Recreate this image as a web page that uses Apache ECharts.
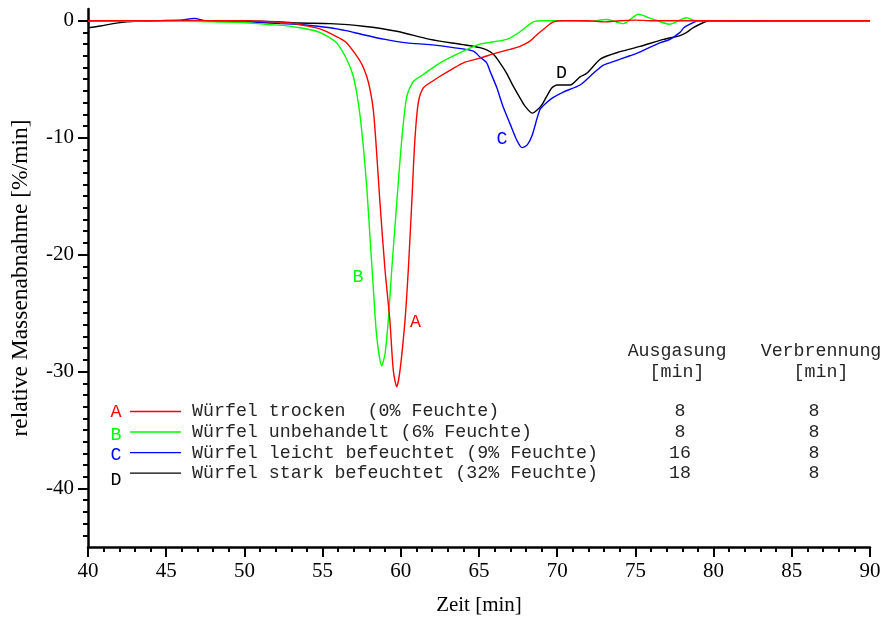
<!DOCTYPE html>
<html>
<head>
<meta charset="utf-8">
<script src="https://cdn.jsdelivr.net/npm/echarts@6/dist/echarts.min.js"></script>
<style>
  html, body { margin: 0; padding: 0; background: #ffffff; }
  #chart { width: 886px; height: 623px; }
</style>
</head>
<body>
<div id="chart"></div>
<script>
// Mass loss rate [%/min] over time [min] for four cube samples
const timeA = [40, 42, 44, 46, 48, 50, 51, 52, 53, 53.55, 54.2, 54.83, 55.3, 55.66, 56.1, 56.54, 57.18, 57.5, 57.82, 58.05, 58.24, 58.4, 58.67, 58.99, 59.3, 59.52, 59.74, 59.95, 60.27, 60.48, 60.7, 60.9, 61.12, 61.44, 62.0, 62.51, 63.2, 64.0, 65.06, 66.13, 67.0, 67.62, 68.26, 68.7, 69.11, 69.75, 70.5, 72, 73, 74, 75, 76, 78, 80, 85, 90];
const rateA = [0, 0, 0, 0.05, 0, 0, -0.05, -0.1, -0.2, -0.33, -0.5, -0.7, -0.95, -1.2, -1.5, -1.9, -3.0, -3.7, -4.75, -6.0, -7.6, -10.2, -15.6, -21.3, -25.6, -29.9, -31.3, -29.9, -25.6, -21.3, -15.6, -10.2, -7.0, -5.75, -5.2, -4.75, -4.2, -3.6, -3.2, -2.75, -2.45, -2.2, -1.75, -1.2, -0.75, -0.1, 0, 0, -0.1, 0, 0.05, 0, 0, 0, 0, 0];

const timeB = [40, 42, 44, 46, 48, 50, 51.43, 52.5, 53.55, 54.62, 55.26, 55.9, 56.54, 56.96, 57.28, 57.54, 57.82, 58.03, 58.24, 58.46, 58.78, 58.99, 59.2, 59.42, 59.74, 60.06, 60.38, 60.8, 61.44, 62.51, 64.0, 65.06, 66.77, 67.62, 68.47, 69.11, 71, 72, 73.16, 74.23, 75.19, 75.93, 77.21, 78.28, 78.81, 80, 85, 90];
const rateB = [0, -0.05, 0, -0.05, -0.1, -0.15, -0.33, -0.4, -0.6, -0.9, -1.3, -1.9, -3.3, -4.75, -7.0, -9.9, -14.2, -18.5, -22.8, -27.0, -29.5, -28.5, -25.6, -21.3, -15.6, -10.2, -6.5, -5.2, -4.6, -3.6, -2.6, -2.0, -1.6, -0.95, -0.1, 0, 0, -0.05, 0.1, -0.25, 0.55, 0.22, -0.3, 0.25, 0, 0, 0, 0];

const timeC = [40, 42, 44, 46, 46.8, 47.5, 49, 50, 51, 52.28, 53.55, 55.47, 56.5, 57.6, 59, 60.38, 61.87, 63.36, 64.64, 65.06, 65.49, 65.7, 66.13, 66.5, 66.98, 67.41, 67.75, 68.1, 68.4, 68.9, 69.33, 69.7, 70.39, 71.46, 72.31, 72.95, 73.59, 74.65, 75.08, 76.57, 77.21, 77.85, 78.1, 78.49, 79.0, 80, 82, 84, 86, 88, 90];
const rateC = [0, -0.05, 0, 0.05, 0.2, 0, -0.05, -0.1, -0.15, -0.25, -0.33, -0.6, -0.85, -1.2, -1.6, -1.9, -2.05, -2.3, -2.6, -3.1, -3.6, -4.3, -5.7, -7.2, -8.8, -10.2, -10.85, -10.6, -9.8, -7.6, -7.0, -6.6, -6.1, -5.5, -4.5, -3.8, -3.5, -3.0, -2.8, -1.9, -1.6, -1.0, -0.6, -0.3, 0, 0, -0.05, 0, 0, 0, 0];

const timeD = [40, 40.8, 41.6, 42.47, 43.5, 45, 47, 49, 51, 52.28, 53.55, 55.47, 57.6, 59.74, 61.87, 64.0, 65.06, 65.49, 65.91, 66.34, 66.77, 67.19, 67.62, 67.94, 68.4, 68.9, 69.11, 69.65, 70.0, 70.82, 71.46, 71.89, 72.8, 74.02, 75.3, 76.79, 77.85, 78.28, 78.7, 79.56, 80, 85, 90];
const rateD = [-0.6, -0.45, -0.25, -0.1, 0, 0, 0, 0, -0.05, -0.1, -0.2, -0.25, -0.47, -0.9, -1.6, -2.05, -2.3, -2.5, -2.85, -3.6, -4.5, -5.6, -6.6, -7.3, -7.9, -7.4, -7.0, -5.75, -5.5, -5.5, -4.8, -4.5, -3.25, -2.65, -2.2, -1.6, -1.27, -1.0, -0.6, -0.05, 0, 0, 0];

const curveLetters = ['A', 'B', 'C', 'D'];
const curveColors = ['#ff0000', '#00ff00', '#0000ff', '#000000'];
const sampleNames = [
  'Würfel trocken  (0% Feuchte)',
  'Würfel unbehandelt (6% Feuchte)',
  'Würfel leicht befeuchtet (9% Feuchte)',
  'Würfel stark befeuchtet (32% Feuchte)'
];
const degassingTimes = ['8', '8', '16', '18'];
const combustionTimes = ['8', '8', '8', '8'];
const columnHeads = ['Ausgasung', 'Verbrennung'];
const columnUnit = '[min]';

const yMajorTicks = [0, -10, -20, -30, -40];
const yMinorTicks = [];
for (let v = -44; v <= 0; v++) yMinorTicks.push(v);

const pair = (xs, ys) => xs.map((x, i) => [x, ys[i]]);
const curves = [pair(timeA, rateA), pair(timeB, rateB), pair(timeC, rateC), pair(timeD, rateD)];

const serif = 'Liberation Serif';
const monoFont = '18.3px "Liberation Mono"';
const textInk = '#262626';

const chart = echarts.init(document.getElementById('chart'));

// legend block: letter, line key, description, then the two time columns
const legendRowsY = [411.5, 432, 452.7, 473.2];
const letterRowsY = [411.7, 435.5, 455, 480];
const graphics = [];
legendRowsY.forEach((y, i) => {
  graphics.push({
    type: 'text', x: 116, y: letterRowsY[i],
    style: { text: curveLetters[i], fill: curveColors[i], font: monoFont, align: 'center', verticalAlign: 'middle' }
  });
  graphics.push({
    type: 'line', shape: { x1: 130, y1: y, x2: 181, y2: y },
    style: { stroke: curveColors[i], lineWidth: 1.3 }
  });
  graphics.push({
    type: 'text', x: 192, y: y,
    style: { text: sampleNames[i], fill: textInk, font: monoFont, verticalAlign: 'middle' }
  });
  graphics.push({
    type: 'text', x: 680, y: y,
    style: { text: degassingTimes[i], fill: textInk, font: monoFont, align: 'center', verticalAlign: 'middle' }
  });
  graphics.push({
    type: 'text', x: 814, y: y,
    style: { text: combustionTimes[i], fill: textInk, font: monoFont, align: 'center', verticalAlign: 'middle' }
  });
});
[[677, columnHeads[0]], [821, columnHeads[1]]].forEach(([cx, head]) => {
  graphics.push({
    type: 'text', x: cx, y: 351,
    style: { text: head, fill: textInk, font: monoFont, align: 'center', verticalAlign: 'middle' }
  });
  graphics.push({
    type: 'text', x: cx, y: 372,
    style: { text: columnUnit, fill: textInk, font: monoFont, align: 'center', verticalAlign: 'middle' }
  });
});
// curve letters beside the peaks
const peakLetterPos = [[415.5, 322], [358, 277], [502, 139.5], [561.5, 73]];
peakLetterPos.forEach(([px, py], i) => {
  graphics.push({
    type: 'text', x: px, y: py,
    style: { text: curveLetters[i], fill: curveColors[i], font: monoFont, align: 'center', verticalAlign: 'middle' }
  });
});

const axisLineStyle = { color: '#000', width: 2.5 };

const option = {
  animation: false,
  backgroundColor: '#ffffff',
  grid: { left: 88, right: 16, top: 9, bottom: 76, containLabel: false },
  xAxis: {
    type: 'value', min: 40, max: 90, interval: 5,
    name: 'Zeit [min]', nameLocation: 'middle', nameGap: 48,
    nameTextStyle: { fontFamily: serif, fontSize: 21, color: '#000' },
    axisLine: { onZero: false, lineStyle: axisLineStyle },
    axisTick: { show: true, inside: false, length: 10, lineStyle: { color: '#000', width: 2 } },
    minorTick: { show: true, splitNumber: 5, length: 5, lineStyle: { color: '#000', width: 2 } },
    axisLabel: { fontFamily: serif, fontSize: 21, color: '#000', margin: 14 },
    splitLine: { show: false }
  },
  yAxis: [
    {
      type: 'value', min: -45, max: 1,
      name: 'relative Massenabnahme [%/min]', nameLocation: 'middle', nameGap: 55,
      nameTextStyle: { fontFamily: serif, fontSize: 23.5, color: '#000' },
      axisLine: { onZero: false, lineStyle: axisLineStyle },
      axisTick: { show: true, inside: false, length: 10, customValues: yMajorTicks, lineStyle: { color: '#000', width: 2 } },
      axisLabel: { fontFamily: serif, fontSize: 21, color: '#000', margin: 14, customValues: yMajorTicks },
      splitLine: { show: false }
    },
    {
      type: 'value', min: -45, max: 1, position: 'left',
      axisLine: { show: false, onZero: false },
      axisTick: { show: true, inside: false, length: 5, customValues: yMinorTicks, lineStyle: { color: '#000', width: 2 } },
      axisLabel: { show: false },
      splitLine: { show: false }
    }
  ],
  graphic: graphics,
  series: curves.map((data, i) => ({
    type: 'line',
    name: curveLetters[i],
    data: data,
    xAxisIndex: 0,
    yAxisIndex: 0,
    showSymbol: false,
    smooth: 0.25,
    lineStyle: { color: curveColors[i], width: 1.4 },
    z: 4 - i
  }))
};

chart.setOption(option);
</script>
</body>
</html>
